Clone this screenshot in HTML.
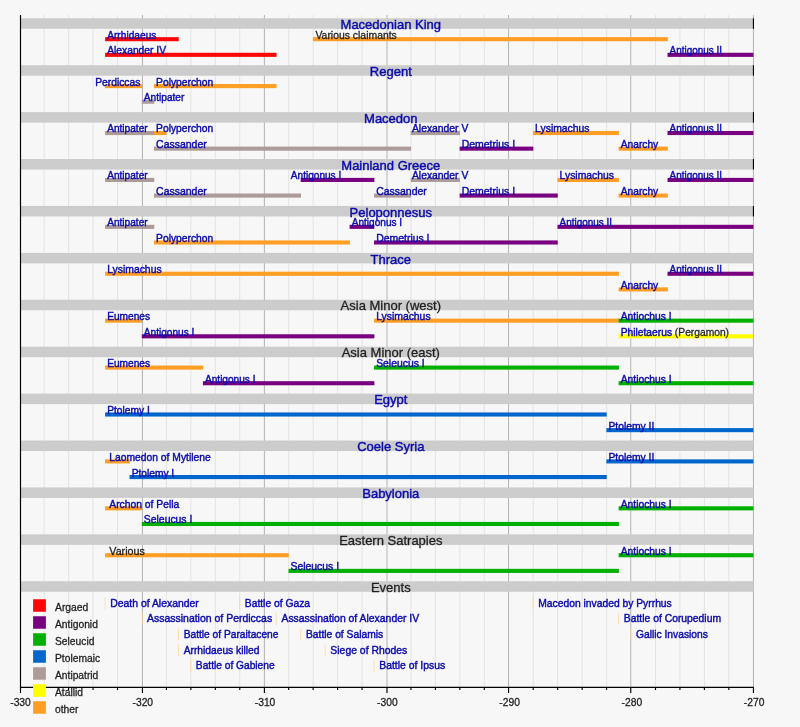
<!DOCTYPE html>
<html><head><meta charset="utf-8"><title>Diadochi timeline</title>
<style>
html,body{margin:0;padding:0;background:#f7f7f7;}
body{width:800px;height:727px;overflow:hidden;}
svg{display:block;position:absolute;left:0;top:0;filter:blur(0.35px);}
text{font-family:"Liberation Sans",sans-serif;font-size:10.7px;fill:#0a0aae;stroke:#0a0aae;stroke-width:0.42;white-space:pre;}
.h{font-size:13px;text-anchor:middle;stroke-width:0.42;}
.ax{text-anchor:middle;}
.k{fill:#1e1e1e;stroke:#1e1e1e;stroke-width:0.28;}
.gm{stroke:#e3e3e3;stroke-width:1;}
.gM{stroke:#acacac;stroke-width:0.9;}
.band{fill:#cccccc;}
.ev{stroke:#ffd296;stroke-width:0.7;}
.bk{stroke:#000;stroke-width:1.15;}
</style></head><body>
<svg width="800" height="727" viewBox="0 0 800 727">
<rect x="0" y="0" width="800" height="727" fill="#f7f7f7"/>
<g>
<line class="gm" x1="44.15" x2="44.15" y1="15" y2="687.4"/>
<line class="gm" x1="68.61" x2="68.61" y1="15" y2="687.4"/>
<line class="gm" x1="93.06" x2="93.06" y1="15" y2="687.4"/>
<line class="gm" x1="117.51" x2="117.51" y1="15" y2="687.4"/>
<line class="gM" x1="142.45" x2="142.45" y1="15" y2="687.4"/>
<line class="gm" x1="166.42" x2="166.42" y1="15" y2="687.4"/>
<line class="gm" x1="190.87" x2="190.87" y1="15" y2="687.4"/>
<line class="gm" x1="215.33" x2="215.33" y1="15" y2="687.4"/>
<line class="gm" x1="239.78" x2="239.78" y1="15" y2="687.4"/>
<line class="gM" x1="264.40" x2="264.40" y1="15" y2="687.4"/>
<line class="gm" x1="288.69" x2="288.69" y1="15" y2="687.4"/>
<line class="gm" x1="313.14" x2="313.14" y1="15" y2="687.4"/>
<line class="gm" x1="337.59" x2="337.59" y1="15" y2="687.4"/>
<line class="gm" x1="362.05" x2="362.05" y1="15" y2="687.4"/>
<line class="gM" x1="387.00" x2="387.00" y1="15" y2="687.4"/>
<line class="gm" x1="410.95" x2="410.95" y1="15" y2="687.4"/>
<line class="gm" x1="435.41" x2="435.41" y1="15" y2="687.4"/>
<line class="gm" x1="459.86" x2="459.86" y1="15" y2="687.4"/>
<line class="gm" x1="484.31" x2="484.31" y1="15" y2="687.4"/>
<line class="gM" x1="508.55" x2="508.55" y1="15" y2="687.4"/>
<line class="gm" x1="533.22" x2="533.22" y1="15" y2="687.4"/>
<line class="gm" x1="557.67" x2="557.67" y1="15" y2="687.4"/>
<line class="gm" x1="582.13" x2="582.13" y1="15" y2="687.4"/>
<line class="gm" x1="606.58" x2="606.58" y1="15" y2="687.4"/>
<line class="gM" x1="630.75" x2="630.75" y1="15" y2="687.4"/>
<line class="gm" x1="655.49" x2="655.49" y1="15" y2="687.4"/>
<line class="gm" x1="679.94" x2="679.94" y1="15" y2="687.4"/>
<line class="gm" x1="704.39" x2="704.39" y1="15" y2="687.4"/>
<line class="gm" x1="728.85" x2="728.85" y1="15" y2="687.4"/>
<line class="gM" x1="753.45" x2="753.45" y1="15" y2="687.4"/>
</g>
<rect class="band" x="21.00" y="18.30" width="732.60" height="10.5"/>
<rect x="105.09" y="37.14" width="73.66" height="4.1" fill="#fa0808"/>
<rect x="312.94" y="37.14" width="354.87" height="4.1" fill="#ff9e24"/>
<rect x="105.09" y="52.78" width="171.47" height="4.1" fill="#fa0808"/>
<rect x="667.51" y="52.78" width="85.89" height="4.1" fill="#780080"/>
<rect class="band" x="21.00" y="65.21" width="732.60" height="10.5"/>
<rect x="105.09" y="84.05" width="36.98" height="4.1" fill="#ff9e24"/>
<rect x="153.99" y="84.05" width="122.57" height="4.1" fill="#ff9e24"/>
<rect x="141.77" y="99.69" width="12.53" height="4.1" fill="#ad9b9a"/>
<rect class="band" x="21.00" y="112.13" width="732.60" height="10.5"/>
<rect x="105.09" y="130.97" width="49.21" height="4.1" fill="#ad9b9a"/>
<rect x="153.99" y="130.97" width="12.53" height="4.1" fill="#ff9e24"/>
<rect x="410.75" y="130.97" width="49.21" height="4.1" fill="#ad9b9a"/>
<rect x="533.02" y="130.97" width="85.89" height="4.1" fill="#ff9e24"/>
<rect x="667.51" y="130.97" width="85.89" height="4.1" fill="#780080"/>
<rect x="153.99" y="146.60" width="257.06" height="4.1" fill="#ad9b9a"/>
<rect x="459.66" y="146.60" width="73.66" height="4.1" fill="#780080"/>
<rect x="618.61" y="146.60" width="49.21" height="4.1" fill="#ff9e24"/>
<rect class="band" x="21.00" y="159.04" width="732.60" height="10.5"/>
<rect x="105.09" y="177.88" width="49.21" height="4.1" fill="#ad9b9a"/>
<rect x="300.71" y="177.88" width="73.66" height="4.1" fill="#780080"/>
<rect x="410.75" y="177.88" width="49.21" height="4.1" fill="#ad9b9a"/>
<rect x="557.47" y="177.88" width="61.43" height="4.1" fill="#ff9e24"/>
<rect x="667.51" y="177.88" width="85.89" height="4.1" fill="#780080"/>
<rect x="153.99" y="193.52" width="147.02" height="4.1" fill="#ad9b9a"/>
<rect x="374.07" y="193.52" width="36.98" height="4.1" fill="#ad9b9a"/>
<rect x="459.66" y="193.52" width="98.11" height="4.1" fill="#780080"/>
<rect x="618.61" y="193.52" width="49.21" height="4.1" fill="#ff9e24"/>
<rect class="band" x="21.00" y="205.96" width="732.60" height="10.5"/>
<rect x="105.09" y="224.79" width="49.21" height="4.1" fill="#ad9b9a"/>
<rect x="349.62" y="224.79" width="24.75" height="4.1" fill="#780080"/>
<rect x="557.47" y="224.79" width="195.93" height="4.1" fill="#780080"/>
<rect x="153.99" y="240.43" width="195.93" height="4.1" fill="#ff9e24"/>
<rect x="374.07" y="240.43" width="183.70" height="4.1" fill="#780080"/>
<rect class="band" x="21.00" y="252.87" width="732.60" height="10.5"/>
<rect x="105.09" y="271.71" width="513.82" height="4.1" fill="#ff9e24"/>
<rect x="667.51" y="271.71" width="85.89" height="4.1" fill="#780080"/>
<rect x="618.61" y="287.35" width="49.21" height="4.1" fill="#ff9e24"/>
<rect class="band" x="21.00" y="299.78" width="732.60" height="10.5"/>
<rect x="105.09" y="318.62" width="36.98" height="4.1" fill="#ff9e24"/>
<rect x="374.07" y="318.62" width="244.83" height="4.1" fill="#ff9e24"/>
<rect x="618.61" y="318.62" width="134.79" height="4.1" fill="#00b000"/>
<rect x="141.77" y="334.26" width="232.61" height="4.1" fill="#780080"/>
<rect x="618.61" y="334.26" width="134.79" height="4.1" fill="#ffff00"/>
<rect class="band" x="21.00" y="346.70" width="732.60" height="10.5"/>
<rect x="105.09" y="365.54" width="98.11" height="4.1" fill="#ff9e24"/>
<rect x="374.07" y="365.54" width="244.83" height="4.1" fill="#00b000"/>
<rect x="202.90" y="381.17" width="171.47" height="4.1" fill="#780080"/>
<rect x="618.61" y="381.17" width="134.79" height="4.1" fill="#00b000"/>
<rect class="band" x="21.00" y="393.61" width="732.60" height="10.5"/>
<rect x="105.09" y="412.45" width="501.59" height="4.1" fill="#0066cc"/>
<rect x="606.38" y="428.09" width="147.02" height="4.1" fill="#0066cc"/>
<rect class="band" x="21.00" y="440.53" width="732.60" height="10.5"/>
<rect x="105.09" y="459.36" width="24.75" height="4.1" fill="#ff9e24"/>
<rect x="606.38" y="459.36" width="147.02" height="4.1" fill="#0066cc"/>
<rect x="129.54" y="475.00" width="477.14" height="4.1" fill="#0066cc"/>
<rect class="band" x="21.00" y="487.44" width="732.60" height="10.5"/>
<rect x="105.09" y="506.28" width="36.98" height="4.1" fill="#ff9e24"/>
<rect x="618.61" y="506.28" width="134.79" height="4.1" fill="#00b000"/>
<rect x="141.77" y="521.92" width="477.14" height="4.1" fill="#00b000"/>
<rect class="band" x="21.00" y="534.35" width="732.60" height="10.5"/>
<rect x="105.09" y="553.19" width="183.70" height="4.1" fill="#ff9e24"/>
<rect x="618.61" y="553.19" width="134.79" height="4.1" fill="#00b000"/>
<rect x="288.49" y="568.83" width="330.42" height="4.1" fill="#00b000"/>
<rect class="band" x="21.00" y="581.27" width="732.60" height="10.5"/>
<line class="bk" x1="753.45" x2="753.45" y1="18.30" y2="28.80"/>
<line class="bk" x1="753.45" x2="753.45" y1="65.21" y2="75.71"/>
<line class="bk" x1="753.45" x2="753.45" y1="112.13" y2="122.63"/>
<line class="bk" x1="753.45" x2="753.45" y1="159.04" y2="169.54"/>
<line class="bk" x1="753.45" x2="753.45" y1="205.96" y2="216.46"/>
<text class="h" x="390.80" y="28.95">Macedonian King</text>
<text transform="translate(107.19,38.64) scale(0.9508,1)">Arrhidaeus</text>
<text class="k" transform="translate(315.44,38.64) scale(0.9743,1)">Various claimants</text>
<text transform="translate(107.19,54.28) scale(0.9614,1)">Alexander IV</text>
<text transform="translate(669.61,54.28) scale(0.929,1)">Antigonus II</text>
<text class="h" x="390.80" y="75.86">Regent</text>
<text transform="translate(95.19,85.55) scale(0.9621,1)">Perdiccas</text>
<text transform="translate(156.09,85.55) scale(0.9616,1)">Polyperchon</text>
<text transform="translate(143.87,101.19) scale(0.9457,1)">Antipater</text>
<text class="h" x="390.80" y="122.78">Macedon</text>
<text transform="translate(107.19,132.47) scale(0.9457,1)">Antipater</text>
<text transform="translate(156.09,132.47) scale(0.9616,1)">Polyperchon</text>
<text transform="translate(411.95,132.47) scale(0.9676,1)">Alexander V</text>
<text transform="translate(535.12,132.47) scale(0.9715,1)">Lysimachus</text>
<text transform="translate(669.61,132.47) scale(0.929,1)">Antigonus II</text>
<text transform="translate(156.09,148.10) scale(0.9798,1)">Cassander</text>
<text transform="translate(461.76,148.10) scale(0.9762,1)">Demetrius I</text>
<text transform="translate(620.71,148.10) scale(0.9553,1)">Anarchy</text>
<text class="h" x="390.80" y="169.69">Mainland Greece</text>
<text transform="translate(107.19,179.38) scale(0.9457,1)">Antipater</text>
<text transform="translate(290.81,179.38) scale(0.9433,1)">Antigonus I</text>
<text transform="translate(411.95,179.38) scale(0.9676,1)">Alexander V</text>
<text transform="translate(559.57,179.38) scale(0.9715,1)">Lysimachus</text>
<text transform="translate(669.61,179.38) scale(0.929,1)">Antigonus II</text>
<text transform="translate(156.09,195.02) scale(0.9798,1)">Cassander</text>
<text transform="translate(376.17,195.02) scale(0.9798,1)">Cassander</text>
<text transform="translate(461.76,195.02) scale(0.9762,1)">Demetrius I</text>
<text transform="translate(620.71,195.02) scale(0.9553,1)">Anarchy</text>
<text class="h" x="390.80" y="216.61">Peloponnesus</text>
<text transform="translate(107.19,226.29) scale(0.9457,1)">Antipater</text>
<text transform="translate(351.72,226.29) scale(0.9433,1)">Antigonus I</text>
<text transform="translate(559.57,226.29) scale(0.929,1)">Antigonus II</text>
<text transform="translate(156.09,241.93) scale(0.9616,1)">Polyperchon</text>
<text transform="translate(376.17,241.93) scale(0.9762,1)">Demetrius I</text>
<text class="h" x="390.80" y="263.52">Thrace</text>
<text transform="translate(107.19,273.21) scale(0.9715,1)">Lysimachus</text>
<text transform="translate(669.61,273.21) scale(0.929,1)">Antigonus II</text>
<text transform="translate(620.71,288.85) scale(0.9553,1)">Anarchy</text>
<text class="h k" x="390.80" y="310.43">Asia Minor (west)</text>
<text transform="translate(107.19,320.12) scale(0.949,1)">Eumenes</text>
<text transform="translate(376.17,320.12) scale(0.9715,1)">Lysimachus</text>
<text transform="translate(620.71,320.12) scale(0.9615,1)">Antiochus I</text>
<text transform="translate(143.87,335.76) scale(0.9433,1)">Antigonus I</text>
<text transform="translate(620.71,335.76) scale(0.9602,1)">Philetaerus <tspan class="k">(Pergamon)</tspan></text>
<text class="h k" x="390.80" y="357.35">Asia Minor (east)</text>
<text transform="translate(107.19,367.04) scale(0.949,1)">Eumenes</text>
<text transform="translate(376.17,367.04) scale(0.9707,1)">Seleucus I</text>
<text transform="translate(205.00,382.67) scale(0.9433,1)">Antigonus I</text>
<text transform="translate(620.71,382.67) scale(0.9615,1)">Antiochus I</text>
<text class="h" x="390.80" y="404.26">Egypt</text>
<text transform="translate(107.19,413.95) scale(0.9552,1)">Ptolemy I</text>
<text transform="translate(608.48,429.59) scale(0.9649,1)">Ptolemy II</text>
<text class="h" x="390.80" y="451.18">Coele Syria</text>
<text transform="translate(109.29,460.86) scale(0.9641,1)">Laomedon of Mytilene</text>
<text transform="translate(608.48,460.86) scale(0.9649,1)">Ptolemy II</text>
<text transform="translate(131.64,476.50) scale(0.9552,1)">Ptolemy I</text>
<text class="h" x="390.80" y="498.09">Babylonia</text>
<text transform="translate(109.29,507.78) scale(0.966,1)">Archon of Pella</text>
<text transform="translate(620.71,507.78) scale(0.9615,1)">Antiochus I</text>
<text transform="translate(143.87,523.42) scale(0.9707,1)">Seleucus I</text>
<text class="h k" x="390.80" y="545.00">Eastern Satrapies</text>
<text class="k" transform="translate(109.29,554.69) scale(1.0004,1)">Various</text>
<text transform="translate(620.71,554.69) scale(0.9615,1)">Antiochus I</text>
<text transform="translate(290.59,570.33) scale(0.9707,1)">Seleucus I</text>
<text class="h k" x="390.80" y="591.92">Events</text>
<line class="ev" x1="105.09" x2="105.09" y1="597.16" y2="609.16"/>
<text transform="translate(110.29,606.66) scale(0.9724,1)">Death of Alexander</text>
<line class="ev" x1="239.58" x2="239.58" y1="597.16" y2="609.16"/>
<text transform="translate(244.78,606.66) scale(0.9645,1)">Battle of Gaza</text>
<line class="ev" x1="533.02" x2="533.02" y1="597.16" y2="609.16"/>
<text transform="translate(538.22,606.66) scale(0.9648,1)">Macedon invaded by Pyrrhus</text>
<line class="ev" x1="142.45" x2="142.45" y1="612.79" y2="624.79"/>
<text transform="translate(146.97,622.29) scale(0.9807,1)">Assassination of Perdiccas</text>
<line class="ev" x1="276.26" x2="276.26" y1="612.79" y2="624.79"/>
<text transform="translate(281.46,622.29) scale(0.9741,1)">Assassination of Alexander IV</text>
<line class="ev" x1="618.61" x2="618.61" y1="612.79" y2="624.79"/>
<text transform="translate(623.81,622.29) scale(0.969,1)">Battle of Corupedium</text>
<line class="ev" x1="178.45" x2="178.45" y1="628.43" y2="640.43"/>
<text transform="translate(183.65,637.93) scale(0.9553,1)">Battle of Paraitacene</text>
<line class="ev" x1="300.71" x2="300.71" y1="628.43" y2="640.43"/>
<text transform="translate(305.91,637.93) scale(0.964,1)">Battle of Salamis</text>
<line class="ev" x1="630.75" x2="630.75" y1="628.43" y2="640.43"/>
<text transform="translate(636.03,637.93) scale(0.9595,1)">Gallic Invasions</text>
<line class="ev" x1="178.45" x2="178.45" y1="644.07" y2="656.07"/>
<text transform="translate(183.65,653.57) scale(0.9595,1)">Arrhidaeus killed</text>
<line class="ev" x1="325.17" x2="325.17" y1="644.07" y2="656.07"/>
<text transform="translate(330.37,653.57) scale(0.972,1)">Siege of Rhodes</text>
<line class="ev" x1="190.67" x2="190.67" y1="659.71" y2="671.71"/>
<text transform="translate(195.87,669.21) scale(0.9542,1)">Battle of Gabiene</text>
<line class="ev" x1="374.07" x2="374.07" y1="659.71" y2="671.71"/>
<text transform="translate(379.27,669.21) scale(0.9719,1)">Battle of Ipsus</text>
<line class="bk" x1="20.50" x2="20.50" y1="15" y2="687.9"/>
<line class="bk" x1="20.00" x2="753.80" y1="687.4" y2="687.4"/>
<line class="bk" x1="20.50" x2="20.50" y1="687.4" y2="693"/>
<text class="k ax" transform="translate(20.50,705.50) scale(0.962,1)">-330</text>
<line class="bk" x1="44.15" x2="44.15" y1="687.4" y2="690"/>
<line class="bk" x1="68.61" x2="68.61" y1="687.4" y2="690"/>
<line class="bk" x1="93.06" x2="93.06" y1="687.4" y2="690"/>
<line class="bk" x1="117.51" x2="117.51" y1="687.4" y2="690"/>
<line class="bk" x1="142.45" x2="142.45" y1="687.4" y2="693"/>
<text class="k ax" transform="translate(142.77,705.50) scale(0.962,1)">-320</text>
<line class="bk" x1="166.42" x2="166.42" y1="687.4" y2="690"/>
<line class="bk" x1="190.87" x2="190.87" y1="687.4" y2="690"/>
<line class="bk" x1="215.33" x2="215.33" y1="687.4" y2="690"/>
<line class="bk" x1="239.78" x2="239.78" y1="687.4" y2="690"/>
<line class="bk" x1="264.40" x2="264.40" y1="687.4" y2="693"/>
<text class="k ax" transform="translate(265.03,705.50) scale(0.962,1)">-310</text>
<line class="bk" x1="288.69" x2="288.69" y1="687.4" y2="690"/>
<line class="bk" x1="313.14" x2="313.14" y1="687.4" y2="690"/>
<line class="bk" x1="337.59" x2="337.59" y1="687.4" y2="690"/>
<line class="bk" x1="362.05" x2="362.05" y1="687.4" y2="690"/>
<line class="bk" x1="387.00" x2="387.00" y1="687.4" y2="693"/>
<text class="k ax" transform="translate(387.30,705.50) scale(0.962,1)">-300</text>
<line class="bk" x1="410.95" x2="410.95" y1="687.4" y2="690"/>
<line class="bk" x1="435.41" x2="435.41" y1="687.4" y2="690"/>
<line class="bk" x1="459.86" x2="459.86" y1="687.4" y2="690"/>
<line class="bk" x1="484.31" x2="484.31" y1="687.4" y2="690"/>
<line class="bk" x1="508.55" x2="508.55" y1="687.4" y2="693"/>
<text class="k ax" transform="translate(509.57,705.50) scale(0.962,1)">-290</text>
<line class="bk" x1="533.22" x2="533.22" y1="687.4" y2="690"/>
<line class="bk" x1="557.67" x2="557.67" y1="687.4" y2="690"/>
<line class="bk" x1="582.13" x2="582.13" y1="687.4" y2="690"/>
<line class="bk" x1="606.58" x2="606.58" y1="687.4" y2="690"/>
<line class="bk" x1="630.75" x2="630.75" y1="687.4" y2="693"/>
<text class="k ax" transform="translate(631.83,705.50) scale(0.962,1)">-280</text>
<line class="bk" x1="655.49" x2="655.49" y1="687.4" y2="690"/>
<line class="bk" x1="679.94" x2="679.94" y1="687.4" y2="690"/>
<line class="bk" x1="704.39" x2="704.39" y1="687.4" y2="690"/>
<line class="bk" x1="728.85" x2="728.85" y1="687.4" y2="690"/>
<line class="bk" x1="753.45" x2="753.45" y1="687.4" y2="693"/>
<text class="k ax" transform="translate(754.10,705.50) scale(0.962,1)">-270</text>
<rect x="33.1" y="599.25" width="12.8" height="12.5" fill="#fa0808"/>
<text class="k" transform="translate(55.00,610.75) scale(0.968,1)">Argaed</text>
<rect x="33.1" y="616.25" width="12.8" height="12.5" fill="#780080"/>
<text class="k" transform="translate(55.00,627.75) scale(0.962,1)">Antigonid</text>
<rect x="33.1" y="633.25" width="12.8" height="12.5" fill="#00b000"/>
<text class="k" transform="translate(55.00,644.75) scale(0.962,1)">Seleucid</text>
<rect x="33.1" y="650.25" width="12.8" height="12.5" fill="#0066cc"/>
<text class="k" transform="translate(55.00,661.75) scale(0.962,1)">Ptolemaic</text>
<rect x="33.1" y="667.25" width="12.8" height="12.5" fill="#ad9b9a"/>
<text class="k" transform="translate(55.00,678.75) scale(0.9601,1)">Antipatrid</text>
<rect x="33.1" y="684.25" width="12.8" height="12.5" fill="#ffff00"/>
<text class="k" transform="translate(55.00,695.75) scale(0.962,1)">Atallid</text>
<rect x="33.1" y="701.25" width="12.8" height="12.5" fill="#ff9e24"/>
<text class="k" transform="translate(55.00,712.75) scale(0.962,1)">other</text>
</svg>
</body></html>
